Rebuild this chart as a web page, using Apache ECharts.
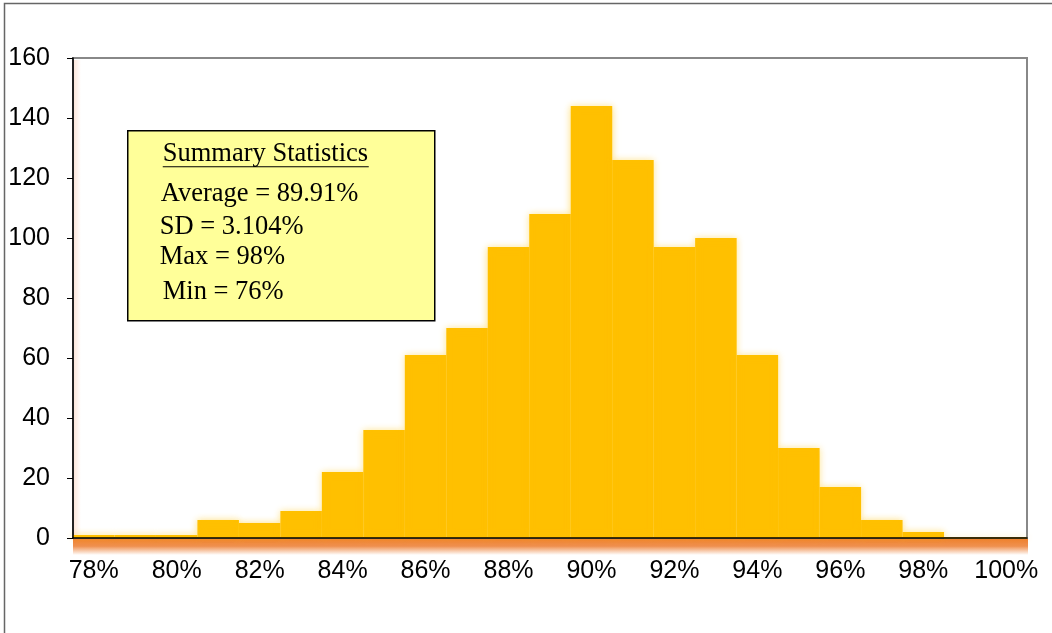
<!DOCTYPE html>
<html>
<head>
<meta charset="utf-8">
<script src="https://cdn.jsdelivr.net/npm/echarts@6/dist/echarts.min.js"></script>
<style>
  html, body { margin: 0; padding: 0; background: #fff; }
  #chart { width: 1052px; height: 633px; }
</style>
</head>
<body>
<div id="chart"></div>
<script>
// histogram bins (1% wide), labels shown every other bin
var categories = ["78%", "79%", "80%", "81%", "82%", "83%", "84%", "85%", "86%", "87%", "88%", "89%",
  "90%", "91%", "92%", "93%", "94%", "95%", "96%", "97%", "98%", "99%", "100%"];
var counts = [1, 1, 1, 6, 5, 9, 22, 36, 61, 70, 97, 108, 144, 126, 97, 100, 61, 30, 17, 6, 2, 0, 0];
var statTitle = "Summary Statistics";
var statLines = ["Average = 89.91%", "SD = 3.104%", "Max = 98%", "Min = 76%"];

var chart = echarts.init(document.getElementById("chart"));

var serif = "'Liberation Serif', 'Times New Roman', serif";
var sans = "'Liberation Sans', Arial, sans-serif";
var txt = function (s, x, y) {
  return {
    type: "text",
    left: x,
    top: y,
    style: { text: s, fontSize: 26.5, fontFamily: serif, fill: "#000" }
  };
};

chart.setOption({
  animation: false,
  grid: {
    left: 73,
    right: 25,
    top: 58,
    bottom: 95,
    show: true,
    borderColor: "#888",
    borderWidth: 2,
    backgroundColor: "transparent"
  },
  xAxis: {
    type: "category",
    data: categories,
    axisLine: { lineStyle: { color: "#000", width: 1.5 } },
    axisTick: { interval: 0, length: 7, lineStyle: { color: "#000" } },
    axisLabel: {
      interval: 1,
      margin: 21,
      color: "#000",
      fontSize: 25,
      fontFamily: sans
    },
    splitLine: { show: false },
    z: 5
  },
  yAxis: {
    type: "value",
    min: 0,
    max: 160,
    interval: 20,
    axisLine: { show: true, lineStyle: { color: "#000", width: 1.5 } },
    axisTick: { show: true, length: 6, lineStyle: { color: "#000" } },
    axisLabel: {
      margin: 23,
      color: "#000",
      fontSize: 25,
      fontFamily: sans
    },
    splitLine: { show: false },
    z: 5
  },
  series: [{
    type: "bar",
    data: counts,
    barCategoryGap: "0%",
    itemStyle: {
      color: "#FFC000",
      borderColor: "#FFC000",
      borderWidth: 1.4,
      shadowColor: "rgba(255,192,0,0.45)",
      shadowBlur: 7
    }
  }],
  graphic: [
    {
      type: "rect",
      left: 2,
      top: 1,
      shape: { width: 1060, height: 631 },
      style: { fill: "none", stroke: "#666", lineWidth: 1.5 },
      z: -1
    },
    {
      // orange glow under the x axis
      type: "rect",
      left: 73,
      top: 539,
      shape: { width: 955, height: 16 },
      style: {
        fill: new echarts.graphic.LinearGradient(0, 0, 0, 1, [
          { offset: 0, color: "rgba(237,125,49,1)" },
          { offset: 0.45, color: "rgba(237,125,49,0.85)" },
          { offset: 1, color: "rgba(237,125,49,0)" }
        ])
      },
      z: 1
    },
    {
      // faint glow right of the y axis
      type: "rect",
      left: 74,
      top: 60,
      shape: { width: 7, height: 478 },
      style: {
        fill: new echarts.graphic.LinearGradient(0, 0, 1, 0, [
          { offset: 0, color: "rgba(248,200,175,0.45)" },
          { offset: 1, color: "rgba(248,200,175,0)" }
        ])
      },
      z: 0
    },
    {
      type: "group",
      left: 127,
      top: 130,
      z: 10,
      children: [
        {
          type: "rect",
          shape: { x: 0, y: 0, width: 307, height: 190 },
          style: { fill: "#FFFF99", stroke: "#000", lineWidth: 1.5 }
        },
        txt(statTitle, 35, 10),
        {
          type: "line",
          shape: { x1: 35, y1: 36, x2: 241, y2: 36 },
          style: { stroke: "#000", lineWidth: 1.2 }
        },
        txt(statLines[0], 33, 50),
        txt(statLines[1], 32, 83),
        txt(statLines[2], 32, 113),
        txt(statLines[3], 35, 148)
      ]
    }
  ]
});
</script>
</body>
</html>
